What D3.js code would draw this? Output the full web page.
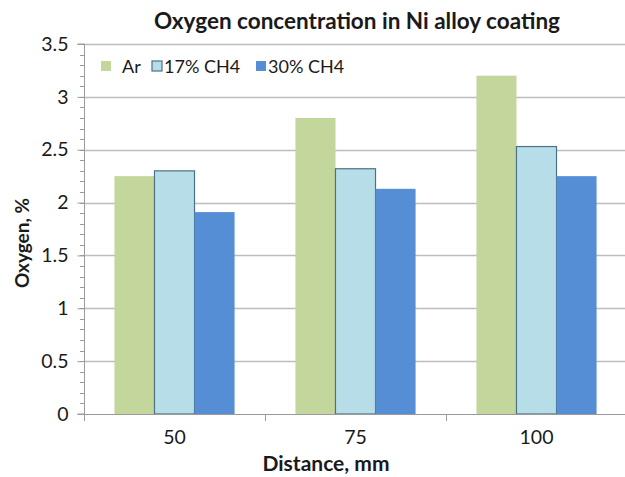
<!DOCTYPE html>
<html><head><meta charset="utf-8">
<script src="https://cdn.jsdelivr.net/npm/d3@7"></script>
<style>body{margin:0;background:#fff}svg{display:block}text{font-family:Lato,"Open Sans",sans-serif;fill:#1a1a1a}</style>
</head><body><div id="chart"></div>
<script>
const categories = ["50", "75", "100"];
const seriesNames = ["Ar", "17% CH4", "30% CH4"];
const arValues = [2.25, 2.80, 3.20];
const ch17Values = [2.30, 2.32, 2.53];
const ch30Values = [1.91, 2.13, 2.25];
const yTicks = [0, 0.5, 1, 1.5, 2, 2.5, 3, 3.5];
const yTickLabels = ["0", "0.5", "1", "1.5", "2", "2.5", "3", "3.5"];
const chartTitle = "Oxygen concentration in Ni alloy coating";
const xTitle = "Distance, mm";
const yTitle = "Oxygen, %";

(function () {
const W = 625, H = 477;
const pL = 84, pR = 627, pT = 44, pB = 414;
const colors = ["#C3D69B", "#B7DEE8", "#558ED5"];
const strokes = ["none", "#4A7282", "none"];
const seriesVals = [arValues, ch17Values, ch30Values];

const svg = d3.select("#chart").append("svg").attr("width", W).attr("height", H);
const x = d3.scaleBand().domain(categories).range([pL, pR]).paddingInner(0).paddingOuter(0);
const xs = d3.scaleBand().domain(seriesNames).range([0, x.bandwidth()]).paddingInner(0).paddingOuter(0.76);
const y = d3.scaleLinear().domain([0, 3.5]).range([pB, pT]);

// gridlines
svg.append("g").selectAll("line").data(yTicks.filter(d => d > 0)).join("line")
  .attr("x1", pL).attr("x2", W).attr("y1", d => Math.round(y(d)) + 0.5).attr("y2", d => Math.round(y(d)) + 0.5)
  .attr("stroke", "#BDBDBD").attr("stroke-width", 1.3);

// minor ticks
const minor = d3.range(0, 3.5001, 0.1);
svg.append("g").selectAll("line").data(minor).join("line")
  .attr("x1", pL - 4).attr("x2", pL).attr("y1", d => Math.round(y(d)) + 0.5).attr("y2", d => Math.round(y(d)) + 0.5)
  .attr("stroke", "#9A9A9A").attr("stroke-width", 1);

// y axis
const yAxis = d3.axisLeft(y).tickValues(yTicks).tickFormat((d, i) => yTickLabels[i]).tickSize(7).tickPadding(9);
const gy = svg.append("g").attr("transform", `translate(${pL + 0.5},0)`).call(yAxis);
gy.select(".domain").attr("stroke", "#9A9A9A").attr("d", `M-7,${pT}H0V${pB}H-7`);
gy.selectAll(".tick line").attr("stroke", "#9A9A9A");
gy.selectAll(".tick text").attr("font-size", 19.5).attr("fill", "#222").style("font-family", "Lato");

// bars
const groups = svg.append("g").selectAll("g").data(categories).join("g")
  .attr("transform", d => `translate(${x(d)},0)`);
groups.selectAll("rect").data((c, ci) => seriesNames.map((s, si) => ({ s, si, v: seriesVals[si][ci] }))).join("rect")
  .attr("x", d => xs(d.s)).attr("width", xs.bandwidth())
  .attr("y", d => y(d.v)).attr("height", d => pB - y(d.v))
  .attr("fill", d => colors[d.si])
  .attr("stroke", d => strokes[d.si]).attr("stroke-width", 1.2);

// x axis
const xg = svg.append("g");
xg.append("line").attr("x1", pL).attr("x2", W).attr("y1", pB + 0.5).attr("y2", pB + 0.5).attr("stroke", "#9A9A9A");
xg.selectAll("line.t").data([0, 1, 2, 3]).join("line").attr("class", "t")
  .attr("x1", i => pL + x.bandwidth() * i + 0.5).attr("x2", i => pL + x.bandwidth() * i + 0.5)
  .attr("y1", pB).attr("y2", pB + 7).attr("stroke", "#9A9A9A");
xg.selectAll("text").data(categories).join("text")
  .attr("x", d => x(d) + x.bandwidth() / 2).attr("y", 444).attr("text-anchor", "middle")
  .attr("font-size", 19.5).attr("fill", "#222").text(d => d);

// titles
svg.append("text").attr("x", 357).attr("y", 29).attr("text-anchor", "middle")
  .attr("font-size", 22.5).attr("font-weight", "bold").text(chartTitle);
svg.append("text").attr("x", 326).attr("y", 471).attr("text-anchor", "middle")
  .attr("font-size", 21).attr("font-weight", "bold").text(xTitle);
svg.append("text").attr("transform", "translate(29,243) rotate(-90)").attr("text-anchor", "middle")
  .attr("font-size", 19).attr("font-weight", "bold").text(yTitle);

// legend
const legendX = [101, 152, 256];
const lg = svg.append("g").selectAll("g").data(seriesNames).join("g")
  .attr("transform", (d, i) => `translate(${legendX[i]},61)`);
lg.append("rect").attr("width", 10).attr("height", 10)
  .attr("fill", (d, i) => colors[i]).attr("stroke", (d, i) => strokes[i]).attr("stroke-width", 1.2);
lg.append("text").attr("x", (d, i) => i === 0 ? 21 : 12).attr("y", 12).attr("font-size", 18).attr("fill", "#222").text(d => d);
})();
</script></body></html>
